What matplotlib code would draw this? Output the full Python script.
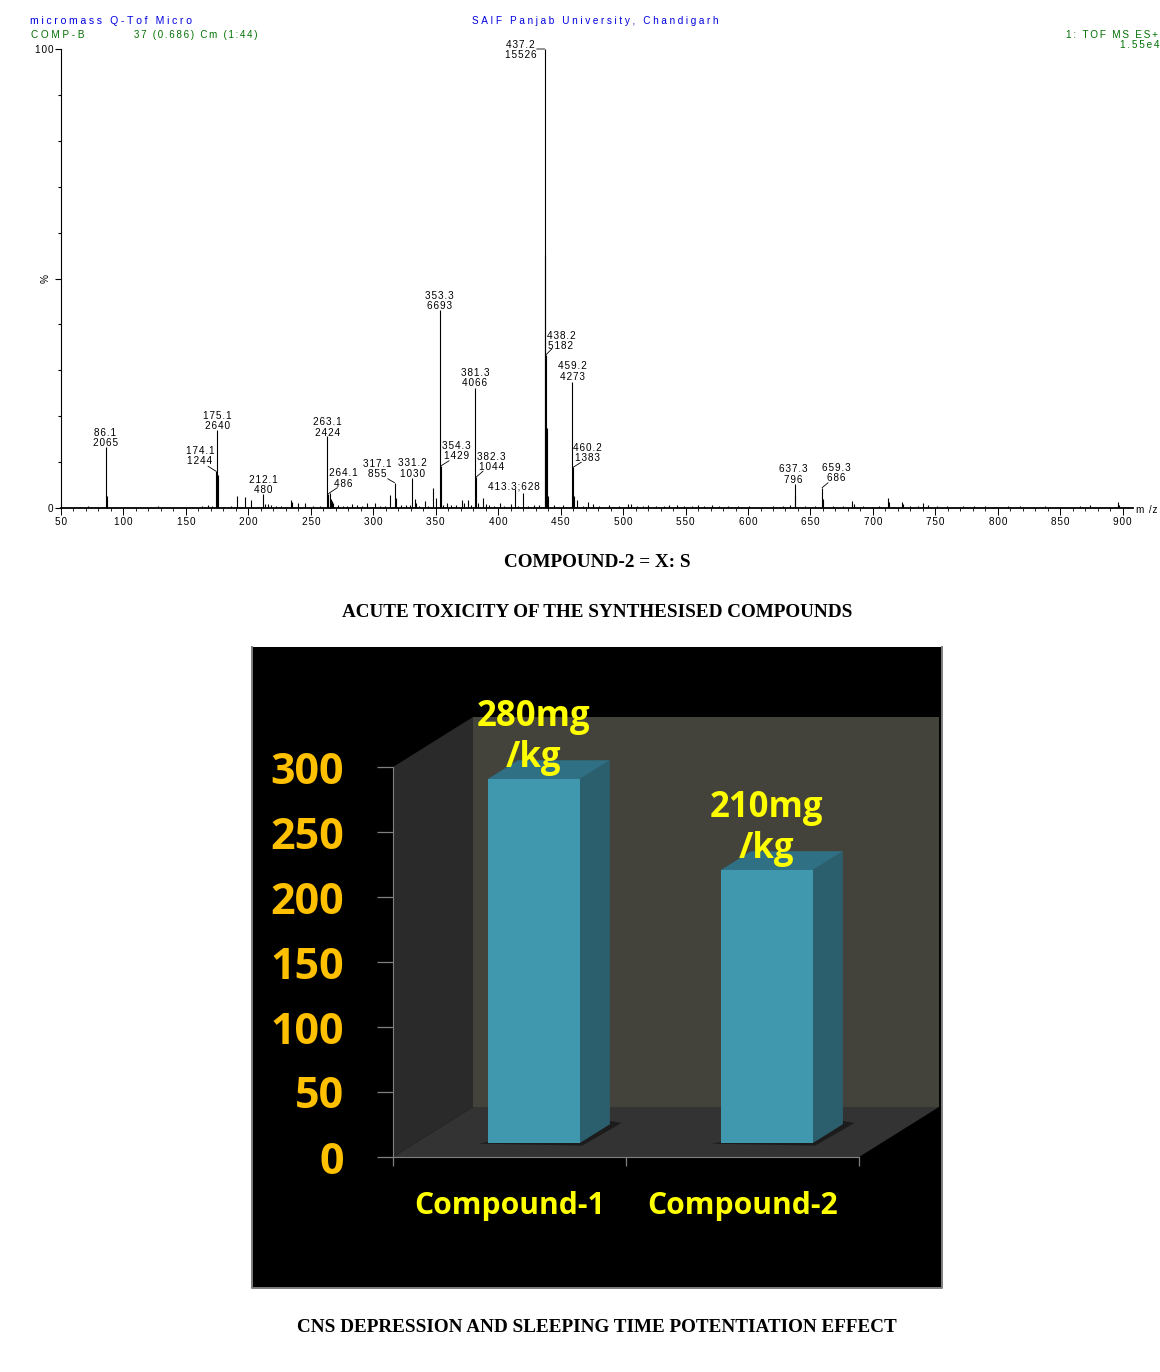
import matplotlib
matplotlib.use('Agg')
import matplotlib.pyplot as plt
from matplotlib.patches import Polygon, Rectangle

W = 1160
H = 1372

# labelled peaks of the spectrum
peak_mz = [86.1, 174.1, 175.1, 212.1, 263.1, 264.1, 317.1, 331.2, 353.3, 354.3, 381.3, 382.3,
           413.3, 437.2, 438.2, 459.2, 460.2, 637.3, 659.3]
peak_counts = [2065, 1244, 2640, 480, 2424, 486, 855, 1030, 6693, 1429, 4066, 1044,
               628, 15526, 5182, 4273, 1383, 796, 686]
# label centre relative to peak top, in pixels (right, up)
label_dx = [-1, -16, 0, 0, 0, 15, -17, 0, 0, 15, 0, 15, -1, -24, 15, 0, 14, -1, 14]
label_dy = [9, 15, 9, 9, 9, 15, 14, 9, 9, 15, 10, 15, 3, -1, 14, 10, 14, 10, 15]
# leader start, only for the labels that sit off to one side
leader_dx = [0, -8, 0, 0, 0, 9, -7, 0, 0, 8, 0, 7, 0, -8, 6, 0, 8, 0, 6]
leader_dy = [0, 5, 0, 0, 0, 6, 4, 0, 0, 5, 0, 6, 0, 0, 6, 0, 5, 0, 5]

# unlabelled peaks
minor_mz = [87, 176, 190.7, 197, 202.3, 213.5, 216, 218, 234, 235, 240, 245.6, 265, 266, 267, 268,
            283, 295, 301.6, 313.7, 318.5, 325.8, 333, 334, 341.6, 347.7, 350.5, 359, 362, 371, 372.5,
            375.8, 384, 387.7, 390, 393, 401.8, 410, 419.6, 437.4, 439, 440, 461, 463, 472, 475.8,
            504, 506, 520, 543, 560, 571, 638, 660, 683.6, 685, 712, 713, 723, 724, 740, 744, 772,
            790, 874, 896, 897]
minor_counts = [400, 1100, 400, 360, 280, 130, 120, 90, 280, 190, 170, 185, 520, 300, 240, 170,
                130, 170, 170, 450, 330, 110, 300, 160, 240, 680, 330, 170, 110, 270, 160,
                270, 170, 340, 120, 100, 170, 130, 510, 8560, 2700, 400, 420, 270, 200, 140,
                120, 130, 100, 110, 100, 90, 420, 300, 220, 120, 340, 210, 210, 120, 170, 100, 70,
                70, 100, 200, 110]
# grass along the baseline
grass_mz = [57, 65, 72, 80, 93, 104, 113, 122, 128, 137, 146, 155, 163, 168, 171, 181, 186, 193, 207,
            222, 226, 229, 252, 257, 272, 276, 279, 287, 291, 305, 309, 322, 329, 337, 344, 356, 366,
            378, 397, 405, 416, 424, 429, 433, 445, 452, 468, 481, 489, 497, 511, 516, 526, 533, 537,
            549, 555, 565, 577, 584, 592, 601, 611, 620, 628, 634, 646, 654, 668, 676, 692, 699, 705,
            717, 730, 736, 751, 759, 765, 781, 797, 808, 818, 829, 838, 847, 858, 866, 882, 889, 904]
grass_counts = [40, 50, 60, 30, 40, 30, 50, 40, 60, 30, 50, 30, 60, 90, 70, 40, 60, 50, 40,
                70, 60, 50, 70, 60, 90, 80, 70, 90, 60, 80, 70, 100, 90, 70, 80, 90, 100,
                90, 80, 70, 60, 70, 90, 100, 110, 90, 80, 70, 90, 60, 60, 70, 80, 60, 90,
                70, 60, 80, 70, 60, 70, 60, 50, 70, 60, 90, 60, 70, 60, 70, 60, 50, 70,
                50, 60, 70, 60, 80, 50, 60, 50, 70, 70, 50, 70, 50, 40, 60, 40, 50, 40]

base_peak = 15526
xticks_spec = [50, 100, 150, 200, 250, 300, 350, 400, 450, 500, 550, 600, 650, 700, 750, 800, 850, 900]

# bar chart
compounds = ['Compound-1', 'Compound-2']
doses = [280, 210]
dose_labels = ['280mg\n/kg', '210mg\n/kg']
yticks_bar = [0, 50, 100, 150, 200, 250, 300]

titles = ['COMPOUND-2 = X: S', 'ACUTE TOXICITY OF THE SYNTHESISED COMPOUNDS',
          'CNS DEPRESSION AND SLEEPING TIME POTENTIATION EFFECT']


def spaced(s, n=1):
    return ('\u200a' * n).join(s)


def axes_px(left, top, right, bottom):
    return [left / W, 1 - bottom / H, (right - left) / W, (bottom - top) / H]


def put(x, y, s, **kw):
    fig.text(x / W, 1 - y / H, s, va='center', **kw)


plt.rcParams['font.family'] = ['Liberation Sans', 'DejaVu Sans']
fig = plt.figure(figsize=(W / 100, H / 100), dpi=100, facecolor='white')

# ---- spectrum ----
ax = fig.add_axes(axes_px(61, 49, 1133, 508))
ax.set_xlim(50, 908.2)
ax.set_ylim(0, 100)
for s in ['top', 'right']:
    ax.spines[s].set_visible(False)
ax.spines['left'].set_linewidth(0.8)
ax.spines['bottom'].set_linewidth(1.3)

pct = lambda c: [100.0 * v / base_peak for v in c]
ax.vlines(grass_mz, 0, pct(grass_counts), color='black', lw=0.8)
ax.vlines(minor_mz, 0, pct(minor_counts), color='black', lw=0.8)
ax.vlines(peak_mz, 0, pct(peak_counts), color='black', lw=0.8)

ax.set_xticks(xticks_spec)
ax.set_xticklabels([spaced(str(v)) for v in xticks_spec], fontsize=7.2)
ax.set_xticks(range(50, 910, 10), minor=True)
ax.tick_params(axis='x', which='major', length=5, width=0.7, pad=1.5)
ax.tick_params(axis='x', which='minor', length=2.5, width=0.6)
ax.set_yticks([0, 50, 100])
ax.set_yticklabels(['0', '', spaced('100')], fontsize=7.2)
ax.set_yticks(range(0, 101, 10), minor=True)
ax.tick_params(axis='y', which='major', length=4.5, width=0.8, pad=1)
ax.tick_params(axis='y', which='minor', length=2.3, width=0.8)
ax.set_ylabel('%', fontsize=7.2)
ax.yaxis.set_label_coords(-10 / 1072, 0.5)

for i in range(len(peak_mz)):
    top = 100.0 * peak_counts[i] / base_peak
    txt = spaced('%.1f' % peak_mz[i]) + '\n' + spaced(str(peak_counts[i]))
    if peak_mz[i] == 413.3:
        txt = spaced('413.3;628')
    ax.annotate(txt, xy=(peak_mz[i], top), xytext=(label_dx[i] * 0.72, label_dy[i] * 0.72),
                textcoords='offset points', ha='center', va='center',
                fontsize=7.2, linespacing=1.05)
    if leader_dx[i] != 0:
        ax.annotate('', xy=(peak_mz[i], top), xytext=(leader_dx[i] * 0.72, leader_dy[i] * 0.72),
                    textcoords='offset points',
                    arrowprops=dict(arrowstyle='-', color='black', lw=0.6, shrinkA=0, shrinkB=0))

put(30, 21.5, spaced('micromass Q-Tof Micro', 3), color='#0000e0', fontsize=7.6, ha='left')
put(472, 21.5, spaced('SAIF Panjab University, Chandigarh', 3), color='#0000e0', fontsize=7.2, ha='left')
put(31, 35, spaced('COMP-B', 3), color='#007000', fontsize=7.2, ha='left')
put(134, 35, spaced('37 (0.686) Cm (1:44)', 2), color='#007000', fontsize=7.0, ha='left')
put(1158, 35, spaced('1: TOF MS ES+', 2), color='#007000', fontsize=7.2, ha='right')
put(1159, 45, spaced('1.55e4', 2), color='#007000', fontsize=7.2, ha='right')
put(1147, 510, spaced('m /z', 1), color='black', fontsize=7.2, ha='center')

for t, y in zip(titles, [562.5, 612.5, 1327.5]):
    put(597, y, t, family='Liberation Serif', weight='bold', fontsize=13.75, ha='center', color='black')

# ---- 3d looking bar chart ----
ax2 = fig.add_axes(axes_px(252, 647, 942, 1288), facecolor='black')
xs = 233.0
ys = 1.3
ax2.set_xlim((252 - 393) / xs, (942 - 393) / xs)
ax2.set_ylim((1157 - 1288) / ys, (1157 - 647) / ys)
ddx = 80 / xs
ddy = 50 / ys
ymax = yticks_bar[-1]
n = len(compounds)

ax2.add_patch(Polygon([(0, 0), (ddx, ddy), (ddx, ymax + ddy), (0, ymax)], fc='#2a2a2a', ec='none', zorder=1))
ax2.add_patch(Rectangle((ddx, ddy), n, ymax, fc='#43433c', ec='none', zorder=1))
ax2.add_patch(Polygon([(0, 0), (n, 0), (n + ddx, ddy), (ddx, ddy)], fc='#333333', ec='none', zorder=1))

bar_w = 92 / xs
d0 = 0.28
d1 = 0.655
for i in range(n):
    x0 = i + 0.5 - bar_w / 2 + d0 * ddx + 2 / xs
    x1 = x0 + bar_w
    y0 = d0 * ddy
    v = doses[i]
    ox = (d1 - d0) * ddx
    oy = (d1 - d0) * ddy
    # shadow on the floor
    ax2.add_patch(Polygon([(x0 - 0.04, y0 - 0.5), (x1 + 0.01, y0 - 2), (x1 + ox + 0.05, y0 + oy + 1), (x1 + ox - 0.02, y0 + oy + 3)],
                          fc='#1c1c1c', ec='none', zorder=2))
    ax2.add_patch(Polygon([(x1, y0), (x1 + ox, y0 + oy), (x1 + ox, y0 + oy + v), (x1, y0 + v)],
                          fc='#2b5f6e', ec='none', zorder=3))
    ax2.add_patch(Polygon([(x0, y0 + v), (x1, y0 + v), (x1 + ox, y0 + oy + v), (x0 + ox, y0 + oy + v)],
                          fc='#2f7085', ec='none', zorder=3))
    ax2.add_patch(Rectangle((x0, y0), bar_w, v, fc='#3f98ae', ec='none', zorder=4))
    ax2.text(x0 + bar_w / 2, y0 + v + 2, dose_labels[i], family='Open Sans', weight='bold', fontsize=25,
             color='#ffff00', ha='center', va='bottom', linespacing=1.2, zorder=6)

for s in ['top', 'right']:
    ax2.spines[s].set_visible(False)
ax2.spines['left'].set_position(('data', 0))
ax2.spines['bottom'].set_position(('data', 0))
ax2.spines['left'].set_bounds(0, ymax)
ax2.spines['bottom'].set_bounds(0, n)
ax2.spines['left'].set_color('#808080')
ax2.spines['bottom'].set_color('#808080')
ax2.set_yticks(yticks_bar)
ax2.set_yticklabels([str(v) for v in yticks_bar], family='Open Sans', weight='bold', fontsize=31, color='#ffc000')
ax2.tick_params(axis='y', length=11.5, width=0.9, color='#808080', pad=24)
ax2.set_xticks(range(n + 1))
ax2.set_xticklabels([''] * (n + 1))
ax2.tick_params(axis='x', which='major', length=6.5, width=0.9, color='#808080')
ax2.set_xticks([i + 0.5 for i in range(n)], minor=True)
ax2.set_xticklabels(compounds, minor=True, family='Open Sans', weight='bold', fontsize=21.7, color='#ffff00')
ax2.tick_params(axis='x', which='minor', length=0, pad=24.5)
# panel edge: no line along the top
ax2.plot([0, 0, 1, 1], [1, 0, 0, 1], transform=ax2.transAxes, color='#7f7f7f', lw=1.4, clip_on=False, zorder=8)

fig.savefig('out.png', dpi=100)
